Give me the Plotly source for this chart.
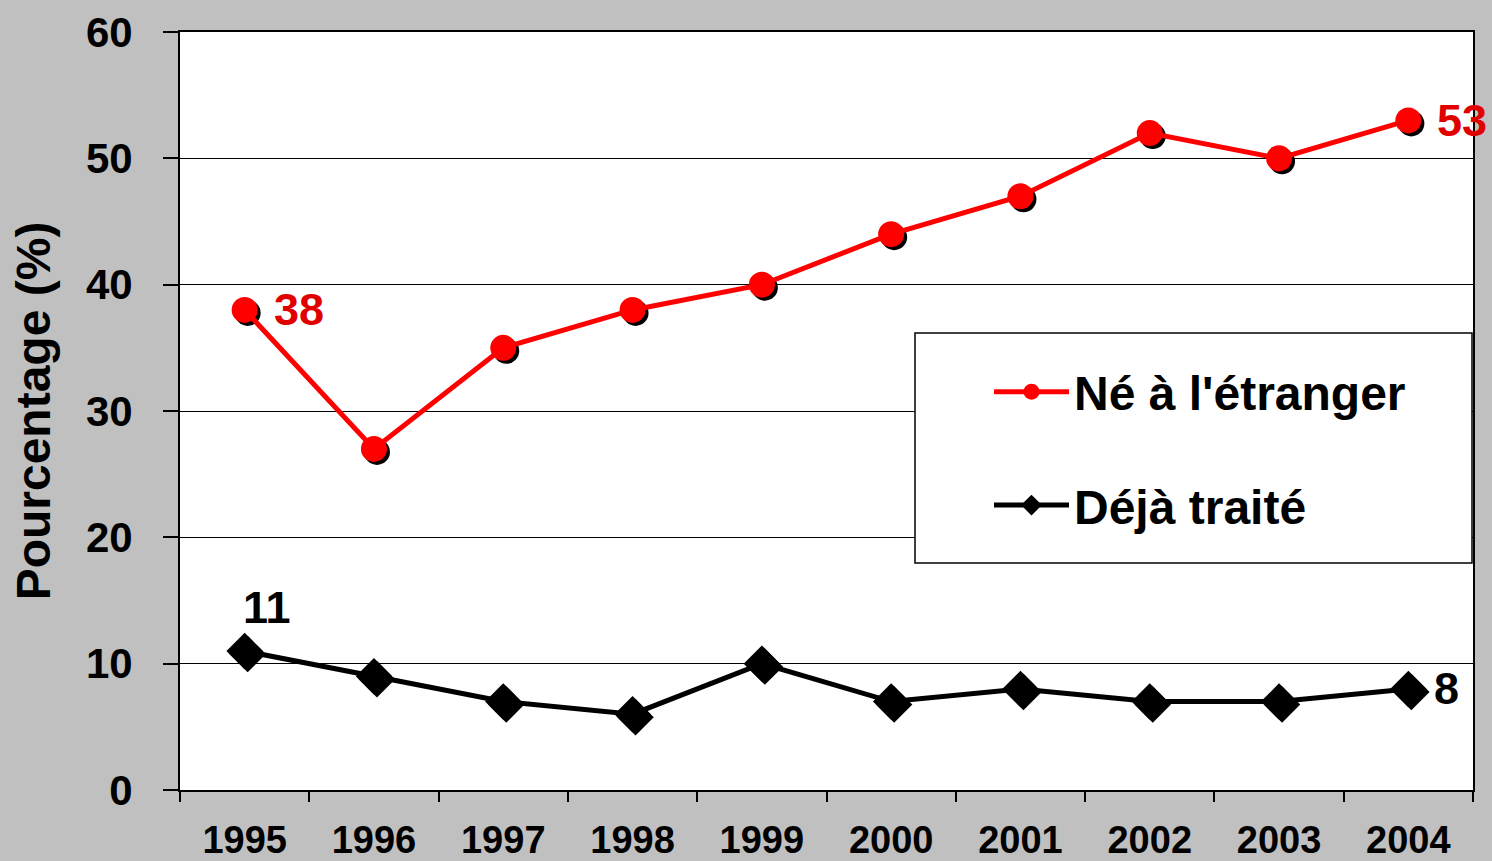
import plotly.graph_objects as go

years = ["1995", "1996", "1997", "1998", "1999", "2000", "2001", "2002", "2003", "2004"]
ne_etranger = [38, 27, 35, 38, 40, 44, 47, 52, 50, 53]
deja_traite = [11, 9, 7, 6, 10, 7, 8, 7, 7, 8]
y_ticks = [0, 10, 20, 30, 40, 50, 60]

FONT = "Liberation Sans"
RED = "#ff0000"
RED_TXT = "#e00000"

W, H = 1492, 861
ml, mr, mt, mb = 180, 19, 32, 71
pw, ph = W - ml - mr, H - mt - mb
xr = [-0.5, 9.5]
yr = [0, 60]
sdx = 3 * (xr[1] - xr[0]) / pw
sdy = 3 * (yr[1] - yr[0]) / ph

fig = go.Figure()

# shadows on the base subplot (range shifted a few pixels)
fig.add_trace(go.Scatter(x=years, y=ne_etranger, mode="markers", xaxis="x", yaxis="y",
                         marker=dict(symbol="circle", size=26, color="black"),
                         showlegend=False, hoverinfo="skip"))
fig.add_trace(go.Scatter(x=years, y=deja_traite, mode="markers", xaxis="x", yaxis="y",
                         marker=dict(symbol="diamond", size=28, color="black"),
                         showlegend=False, hoverinfo="skip"))

# main series on the displayed overlay axes
fig.add_trace(go.Scatter(x=years, y=ne_etranger, mode="lines+markers", name="Né à l'étranger",
                         xaxis="x2", yaxis="y2",
                         line=dict(color=RED, width=5),
                         marker=dict(symbol="circle", size=26, color=RED),
                         legendgroup="a"))
fig.add_trace(go.Scatter(x=years, y=deja_traite, mode="lines+markers", name="Déjà traité",
                         xaxis="x2", yaxis="y2",
                         line=dict(color="black", width=5),
                         marker=dict(symbol="diamond", size=28, color="black"),
                         legendgroup="b"))

lf = dict(family=FONT, size=45, weight="bold")
ann = [
    dict(x=0, y=ne_etranger[0], text=str(ne_etranger[0]), xanchor="left", yanchor="middle",
         xshift=27, showarrow=False, font=dict(**lf, color=RED_TXT)),
    dict(x=len(years) - 1, y=ne_etranger[-1], text=str(ne_etranger[-1]), xanchor="left", yanchor="middle",
         xshift=27, showarrow=False, font=dict(**lf, color=RED_TXT)),
    dict(x=0, y=deja_traite[0], text=str(deja_traite[0]), xanchor="center", yanchor="bottom",
         xshift=22, yshift=16, showarrow=False, font=dict(**lf, color="black")),
    dict(x=len(years) - 1, y=deja_traite[-1], text=str(deja_traite[-1]), xanchor="left", yanchor="middle",
         xshift=24, showarrow=False, font=dict(**lf, color="black")),
]
for a in ann:
    a["xref"] = "x2"
    a["yref"] = "y2"

# legend frame
lx0, lx1, ly0, ly1 = 915, 1472, 333, 563
def px2paper_x(p):
    return (p - ml) / pw
def px2paper_y(p):
    return (H - mb - p) / ph

shapes = [dict(type="rect", xref="paper", yref="paper",
               x0=px2paper_x(lx0), x1=px2paper_x(lx1), y0=px2paper_y(ly1), y1=px2paper_y(ly0),
               fillcolor="white", line=dict(color="black", width=1.5), layer="above")]

fig.update_layout(
    width=W, height=H,
    margin=dict(l=ml, r=mr, t=mt, b=mb, autoexpand=False),
    paper_bgcolor="#c0c0c0",
    plot_bgcolor="white",
    font=dict(family=FONT, color="black"),
    annotations=ann,
    shapes=shapes,
    xaxis=dict(type="category", range=[xr[0] - sdx, xr[1] - sdx], visible=False,
               categoryorder="array", categoryarray=years, automargin=False),
    yaxis=dict(range=[yr[0] + sdy, yr[1] + sdy], visible=False, automargin=False),
    xaxis2=dict(type="category", range=xr, overlaying="x", side="bottom", anchor="y2",
                tickson="boundaries", ticks="outside", ticklen=10, automargin=False,
                tickwidth=2, tickcolor="black", showgrid=False, ticklabelstandoff=15,
                categoryorder="array", categoryarray=years,
                showline=True, linecolor="black", linewidth=2, mirror=True, zeroline=False,
                tickfont=dict(family=FONT, size=38, weight="bold", color="black")),
    yaxis2=dict(range=yr, overlaying="y", side="left", anchor="x2", automargin=False,
                tickvals=y_ticks, ticks="outside", ticklen=15, tickwidth=2,
                tickcolor="black", showgrid=True, gridcolor="black", gridwidth=1,
                ticklabelstandoff=22,
                showline=True, linecolor="black", linewidth=2, mirror=True, zeroline=False,
                tickfont=dict(family=FONT, size=42, weight="bold", color="black"),
                title=dict(text="Pourcentage (%)", standoff=20,
                           font=dict(family=FONT, size=48, weight="bold", color="black"))),
    legend=dict(x=px2paper_x(989), y=px2paper_y(354), xanchor="left", yanchor="top",
                bgcolor="rgba(0,0,0,0)", borderwidth=0, traceorder="grouped", tracegroupgap=48,
                itemwidth=75,
                font=dict(family=FONT, size=48, weight="bold", color="black")),
    showlegend=True,
)

fig.write_html("out.html", post_script="document.body.style.margin='0';",
               config={"displayModeBar": False})
